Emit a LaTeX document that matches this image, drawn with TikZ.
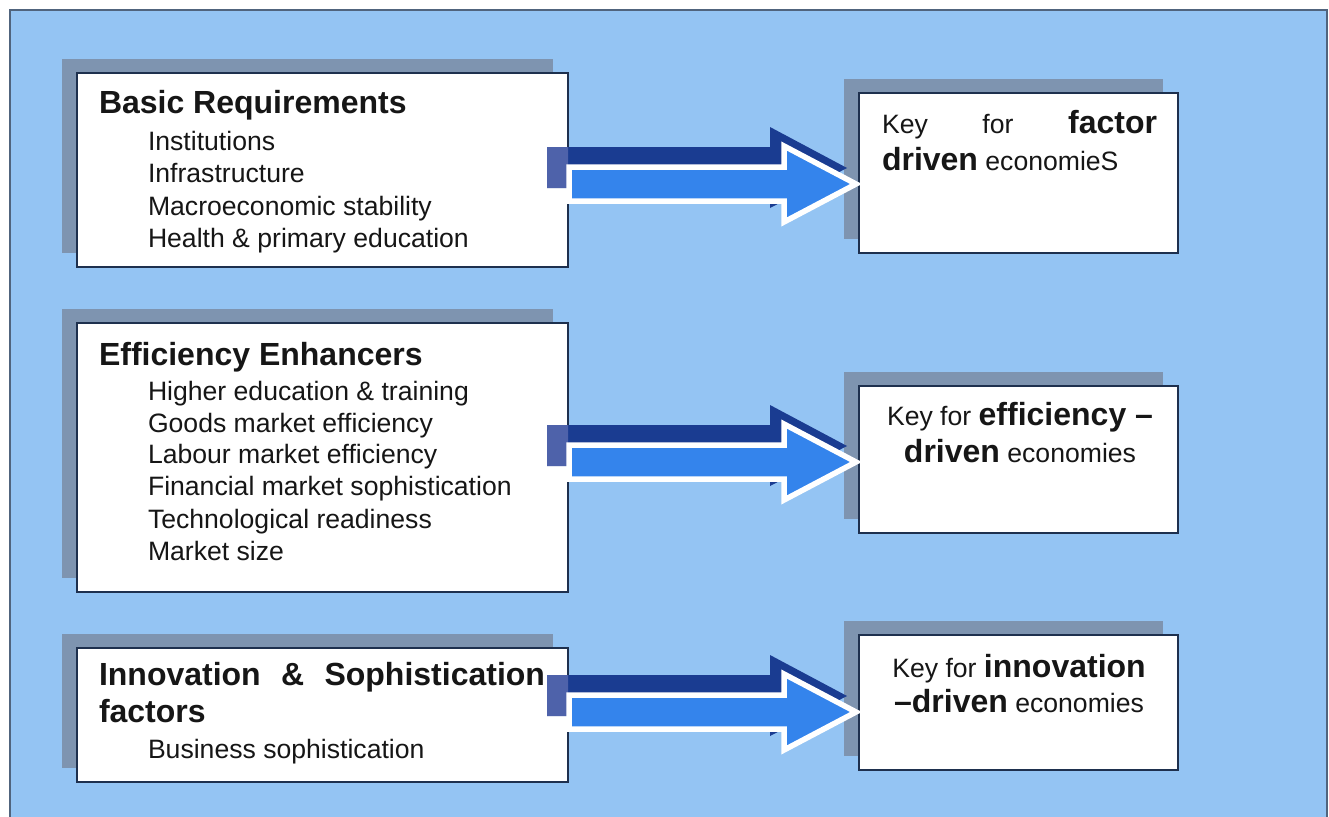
\documentclass[tikz,border=0pt]{standalone}
\usepackage{fontspec}
\setmainfont{Liberation Sans}
\usetikzlibrary{calc}
\definecolor{bgblue}{RGB}{148,196,243}
\definecolor{bgline}{RGB}{80,100,125}
\definecolor{shadowc}{RGB}{126,148,176}
\definecolor{boxline}{RGB}{30,48,78}
\definecolor{arrowlight}{RGB}{52,132,236}
\definecolor{arrowdark}{RGB}{26,60,145}
\definecolor{arrowdarkpale}{RGB}{78,98,170}
\definecolor{textc}{RGB}{22,22,22}
\newcommand\regfont{\fontsize{26.6}{31}\selectfont}
\newcommand\boldfont{\fontsize{32}{37}\selectfont\bfseries}
\newcommand\panel[5]{%
  \node[shadowbox, anchor=north west, minimum width=#4pt, minimum height=#5pt] (#1s) at (#2-15,#3-14) {};
  \node[whitebox, anchor=north west, minimum width=#4pt, minimum height=#5pt] (#1) at (#2,#3) {};
}
\newcommand\bigarrow[3]{%
  \coordinate (#1#2S) at (#1.east |- 0,#3);
  \coordinate (#1#2T) at (#2.west |- 0,#3);
  \fill[arrowdark] ($(#1#2S)+(-21,-37)$) -- ($(#1#2T)+(-89,-37)$) -- ($(#1#2T)+(-89,-57)$) -- ($(#1#2T)+(-12,-16)$) -- ($(#1#2T)+(-89,24)$) -- ($(#1#2T)+(-89,4)$) -- ($(#1#2S)+(-21,4)$) -- cycle;
  \begin{scope}
    \clip (#1.north west) rectangle (#1.south east);
    \fill[arrowdarkpale] ($(#1#2S)+(-21,-37)$) -- ($(#1#2T)+(-89,-37)$) -- ($(#1#2T)+(-89,4)$) -- ($(#1#2S)+(-21,4)$) -- cycle;
  \end{scope}
  \draw[lightarrow] ($(#1#2S)+(1,-17)$) -- ($(#1#2T)+(-75,-17)$) -- ($(#1#2T)+(-75,-38)$) -- ($(#1#2T)+(-3,0)$) -- ($(#1#2T)+(-75,38)$) -- ($(#1#2T)+(-75,17)$) -- ($(#1#2S)+(1,17)$) -- cycle;
}
\begin{document}
\begin{tikzpicture}[x=1pt,y=-1pt,
  shadowbox/.style={fill=shadowc, draw=none, inner sep=0pt, outer sep=0pt},
  whitebox/.style={fill=white, draw=boxline, line width=2pt, inner sep=0pt, outer sep=0pt},
  lightarrow/.style={fill=arrowlight, draw=white, line width=5.5pt, line join=miter},
  item/.style={inner sep=0pt, outer sep=0pt, text=textc, font=\regfont, anchor=base west},
  title/.style={inner sep=0pt, outer sep=0pt, text=textc, font=\boldfont, anchor=base west}]
\useasboundingbox (0,0) rectangle (1329,816);
\fill[white] (0,0) rectangle (1329,816);
\filldraw[fill=bgblue, draw=bgline, line width=1.5pt] (10,10) rectangle (1327,830);

\panel{b1}{77}{73}{491}{194}
\panel{b2}{77}{323}{491}{269}
\panel{b3}{77}{648}{491}{134}
\panel{r1}{859}{93}{319}{160}
\panel{r2}{859}{386}{319}{147}
\panel{r3}{859}{635}{319}{135}

\bigarrow{b1}{r1}{184}
\bigarrow{b2}{r2}{462}
\bigarrow{b3}{r3}{712}

% Box 1
\node[title] (t1) at (99,113) {Basic Requirements};
\foreach \t/\yy [count=\i] in {Institutions/150, Infrastructure/182, Macroeconomic stability/215, Health \& primary education/247}
  \node[item] (b1i\i) at (148,\yy) {\t};
% Box 2
\node[title] (t2) at (99,365) {Efficiency Enhancers};
\foreach \t/\yy [count=\i] in {Higher education \& training/400, Goods market efficiency/432, Labour market efficiency/463, Financial market sophistication/495, Technological readiness/528, Market size/560}
  \node[item] (b2i\i) at (148,\yy) {\t};
% Box 3
\node[title] (t3) at (99,685) {\makebox[446pt][l]{Innovation\hfill\&\hfill Sophistication}};
\node[title] (t3b) at (99,722) {factors};
\node[item] (b3i1) at (148,758) {Business sophistication};

% Right boxes
\node[item] (k1a) at (882,133) {\makebox[275pt][l]{Key\hfill for\hfill{\boldfont factor}}};
\node[item] (k1b) at (882,170) {{\boldfont driven} economieS};
\node[item, anchor=base] (k2a) at (1020,425) {Key for {\boldfont efficiency –}};
\node[item, anchor=base] (k2b) at (1020,462) {{\boldfont driven} economies};
\node[item, anchor=base] (k3a) at (1019,677) {Key for {\boldfont innovation}};
\node[item, anchor=base] (k3b) at (1019,712) {{\boldfont –driven} economies};
\end{tikzpicture}
\end{document}
